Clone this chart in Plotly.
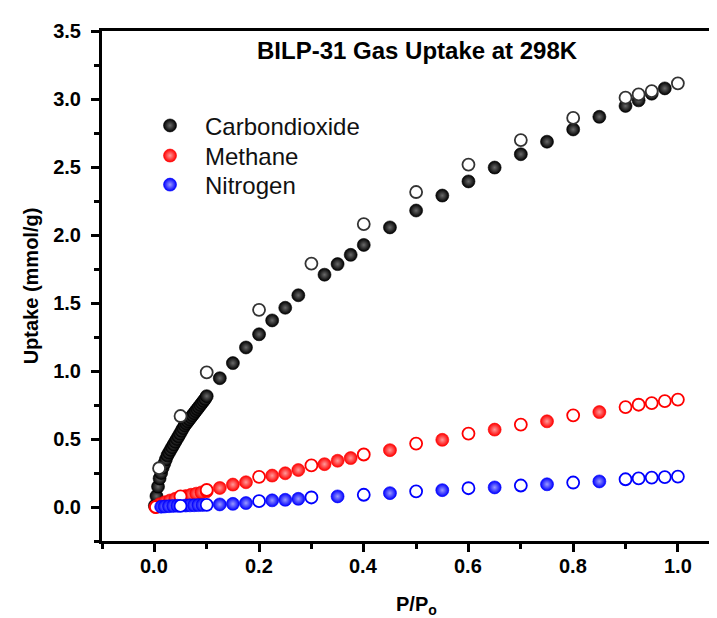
import plotly.graph_objects as go

# ---------------- data ----------------
# CO2 adsorption (filled)
co2_ads_x = [0.001, 0.004, 0.007, 0.010, 0.013, 0.016, 0.019, 0.022, 0.025, 0.028,
             0.031, 0.034, 0.037, 0.040, 0.043, 0.046, 0.049, 0.052, 0.055, 0.058,
             0.061, 0.064, 0.067, 0.070, 0.073, 0.076, 0.079, 0.082, 0.085, 0.088,
             0.091, 0.094, 0.097, 0.100,
             0.125, 0.150, 0.175, 0.200, 0.225, 0.250, 0.275, 0.325, 0.350, 0.375,
             0.400, 0.450, 0.500, 0.550, 0.600, 0.650, 0.700, 0.750, 0.800, 0.850,
             0.900, 0.925, 0.950, 0.975]
co2_ads_y = [0.01, 0.08, 0.15, 0.21, 0.25, 0.29, 0.32, 0.35, 0.38, 0.40,
             0.42, 0.44, 0.46, 0.48, 0.50, 0.52, 0.54, 0.56, 0.58, 0.60,
             0.615, 0.63, 0.645, 0.66, 0.675, 0.69, 0.705, 0.72, 0.735, 0.75,
             0.765, 0.78, 0.795, 0.815,
             0.947, 1.058, 1.173, 1.27, 1.372, 1.465, 1.557, 1.708, 1.786, 1.854,
             1.927, 2.056, 2.18, 2.29, 2.394, 2.496, 2.594, 2.686, 2.776, 2.869,
             2.949, 2.99, 3.039, 3.078]
# CO2 desorption (open)
co2_des_x = [0.009, 0.05, 0.1, 0.2, 0.3, 0.4, 0.5, 0.6, 0.7, 0.8, 0.9, 0.925, 0.95, 1.0]
co2_des_y = [0.285, 0.669, 0.99, 1.45, 1.79, 2.08, 2.316, 2.518, 2.698, 2.861, 3.01, 3.034, 3.058, 3.115]

# CH4 adsorption (filled)
ch4_ads_x = [0.002, 0.01, 0.02, 0.03, 0.04, 0.05, 0.06, 0.07, 0.08, 0.09, 0.1,
             0.125, 0.15, 0.175, 0.225, 0.25, 0.275, 0.325, 0.35, 0.375, 0.45,
             0.55, 0.65, 0.75, 0.85]
ch4_ads_y = [0.0, 0.02, 0.035, 0.048, 0.06, 0.07, 0.08, 0.09, 0.098, 0.107, 0.115,
             0.14, 0.165, 0.182, 0.231, 0.248, 0.272, 0.315, 0.34, 0.36, 0.418,
             0.494, 0.569, 0.63, 0.698]
# CH4 desorption (open)
ch4_des_x = [0.003, 0.05, 0.1, 0.2, 0.3, 0.4, 0.5, 0.6, 0.7, 0.8, 0.9, 0.925, 0.95, 0.975, 1.0]
ch4_des_y = [0.0, 0.078, 0.125, 0.222, 0.306, 0.386, 0.466, 0.54, 0.606, 0.674, 0.735, 0.752, 0.764, 0.779, 0.79]

# N2 adsorption (filled)
n2_ads_x = [0.013, 0.02, 0.028, 0.036, 0.044, 0.06, 0.068, 0.076, 0.084, 0.092,
            0.125, 0.15, 0.175, 0.225, 0.25, 0.275, 0.35, 0.45, 0.55, 0.65, 0.75, 0.85]
n2_ads_y = [0.002, 0.004, 0.006, 0.008, 0.009, 0.011, 0.012, 0.013, 0.014, 0.015,
            0.019, 0.023, 0.029, 0.049, 0.053, 0.060, 0.078, 0.102, 0.124, 0.144, 0.167, 0.188]
# N2 desorption (open)
n2_des_x = [0.05, 0.1, 0.2, 0.3, 0.4, 0.5, 0.6, 0.7, 0.8, 0.9, 0.925, 0.95, 0.975, 1.0]
n2_des_y = [0.008, 0.016, 0.043, 0.07, 0.09, 0.115, 0.138, 0.158, 0.18, 0.204, 0.21, 0.216, 0.22, 0.224]

series_names = ["Carbondioxide", "Methane", "Nitrogen"]
title_text = "BILP-31 Gas Uptake at 298K"
x_title_text = "P/P<sub>o</sub>"
y_title_text = "Uptake (mmol/g)"
x_tickvals = [0.0, 0.2, 0.4, 0.6, 0.8, 1.0]
x_ticklabels = ["0.0", "0.2", "0.4", "0.6", "0.8", "1.0"]
y_tickvals = [0.0, 0.5, 1.0, 1.5, 2.0, 2.5, 3.0, 3.5]

# ---------------- figure ----------------
FONT = "Arial, 'Liberation Sans', sans-serif"
fig = go.Figure()


def add_filled(x, y, name, color, grad, legend_id):
    fig.add_trace(go.Scatter(
        x=x, y=y, mode="markers", name=name, showlegend=True, legend=legend_id,
        marker=dict(symbol="circle", size=13, color=color,
                    gradient=dict(type="radial", color=grad),
                    line=dict(color=color, width=0.6)),
    ))


def add_open(x, y, color):
    fig.add_trace(go.Scatter(
        x=x, y=y, mode="markers", showlegend=False,
        marker=dict(symbol="circle", size=12, color="white",
                    line=dict(color=color, width=1.8)),
    ))


add_filled(co2_ads_x, co2_ads_y, series_names[0], "#000000", "#6a6a6a", "legend")
add_open(co2_des_x, co2_des_y, "#333333")
add_filled(ch4_ads_x, ch4_ads_y, series_names[1], "#ff0000", "#ff9a9a", "legend2")
add_open(ch4_des_x, ch4_des_y, "#ff0000")
add_filled(n2_ads_x, n2_ads_y, series_names[2], "#0000ff", "#9a9aff", "legend3")
add_open(n2_des_x, n2_des_y, "#0000ff")

# chart title inside the frame
fig.add_annotation(
    text=title_text, xref="paper", yref="paper", x=0.506, y=0.961,
    xanchor="center", yanchor="middle", showarrow=False,
    font=dict(family=FONT, size=24, color="black", weight="bold"),
)

# x tick labels (placed close under the axis, as in the reference)
for v, lab in zip(x_tickvals, x_ticklabels):
    fig.add_annotation(
        text=lab, xref="x", yref="paper", x=v, y=-0.049,
        xanchor="center", yanchor="middle", showarrow=False,
        font=dict(family=FONT, size=20, color="black", weight="bold"),
    )

# x axis title
fig.add_annotation(
    text=x_title_text, xref="paper", yref="paper", x=0.505, y=-0.127,
    xanchor="center", yanchor="middle", showarrow=False,
    font=dict(family=FONT, size=20, color="black", weight="bold"),
)


def legend_box(yc):
    return dict(
        x=0.053, y=yc, xanchor="left", yanchor="middle",
        bgcolor="rgba(0,0,0,0)", borderwidth=0,
        font=dict(family=FONT, size=24, color="#111111"),
        itemwidth=60,
    )


fig.update_layout(
    width=717, height=618,
    margin=dict(l=94, r=0, t=23, b=85, autoexpand=False),
    paper_bgcolor="white", plot_bgcolor="white",
    font=dict(family=FONT, color="black"),
    showlegend=True,
    legend=legend_box(0.814),
    legend2=legend_box(0.755),
    legend3=legend_box(0.698),
)

fig.update_xaxes(
    range=[-0.1, 1.09], automargin=False,
    tickmode="array", tickvals=x_tickvals, showticklabels=False,
    ticks="outside", ticklen=8, tickwidth=2.5, tickcolor="black",
    minor=dict(dtick=0.1, tick0=0, ticks="outside", ticklen=5, tickwidth=2.5, tickcolor="black"),
    showline=True, linecolor="black", linewidth=3, mirror=True,
    showgrid=False, zeroline=False,
)
fig.update_yaxes(
    range=[-0.25, 3.5], automargin=False,
    tickmode="array", tickvals=y_tickvals, tickformat=".1f",
    ticks="outside", ticklen=8, tickwidth=2.5, tickcolor="black",
    minor=dict(dtick=0.25, tick0=0, ticks="outside", ticklen=5, tickwidth=2.5, tickcolor="black"),
    showline=True, linecolor="black", linewidth=3, mirror=False,
    showgrid=False, zeroline=False,
    tickfont=dict(family=FONT, size=20, color="black", weight="bold"),
    ticklabelstandoff=6,
    title=dict(text=y_title_text, standoff=10,
               font=dict(family=FONT, size=20, color="black", weight="bold")),
)

fig.write_html("out.html")
